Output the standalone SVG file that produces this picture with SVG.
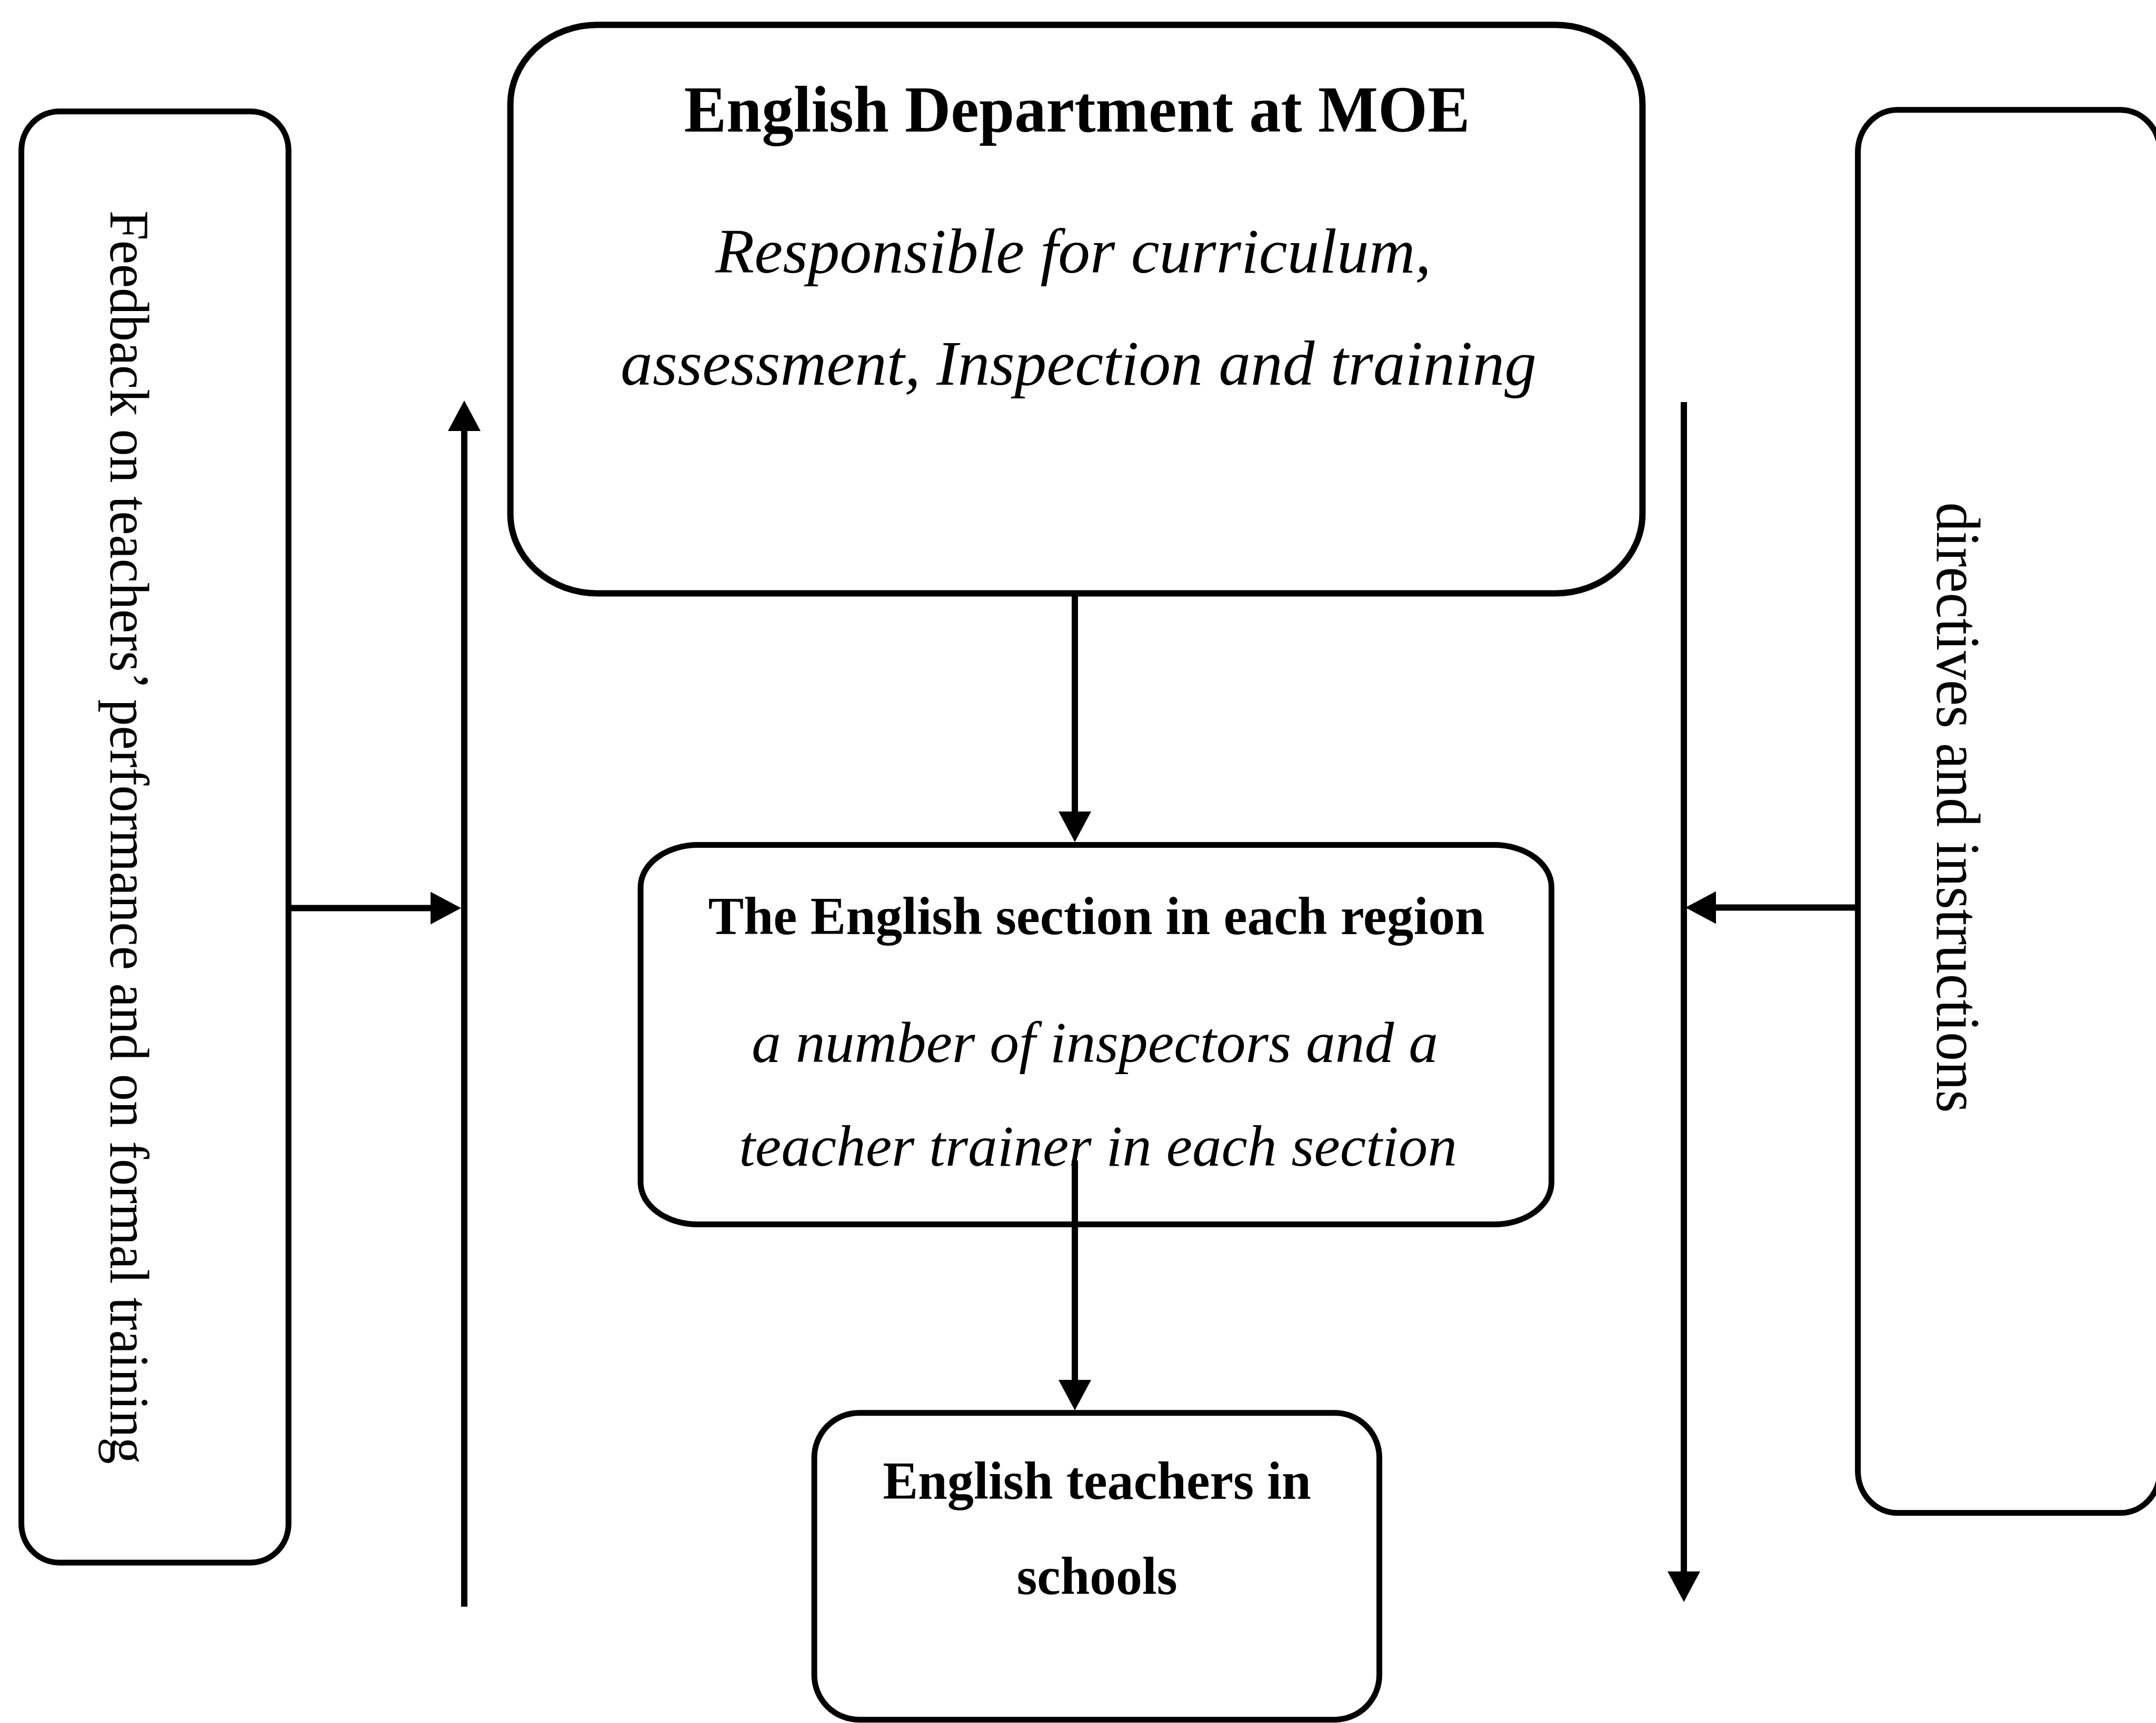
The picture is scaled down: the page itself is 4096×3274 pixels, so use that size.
<svg xmlns="http://www.w3.org/2000/svg" width="4096" height="3274" viewBox="0 0 4096 3274">
<defs>
<style>
.box{fill:#fff;stroke:#000;stroke-width:11}
.t{font-family:"Liberation Serif","Times New Roman",serif;fill:#000}
.b{font-weight:bold}
.i{font-style:italic}
.ln{stroke:#000;stroke-width:12;fill:none}
</style>
<marker id="ah" markerUnits="userSpaceOnUse" markerWidth="60" markerHeight="62" refX="18" refY="31" orient="auto" viewBox="0 0 60 62">
<path d="M0,0 L58,31 L0,62 Z" fill="#000"/>
</marker>
</defs>
<rect width="4096" height="3274" fill="#fff"/>
<g id="feedback">
<rect class="box" x="40.6" y="211.7" width="507.5" height="2757.5" rx="72" ry="74"/>
<text class="t" font-size="106" transform="translate(210,400) rotate(90)" textLength="2382" lengthAdjust="spacingAndGlyphs">Feedback on teachers’ performance and on formal training</text>
</g>
<g id="directives">
<rect class="box" x="3529.6" y="208.8" width="574" height="2665.9" rx="75" ry="80"/>
<text class="t" font-size="118" transform="translate(3680,954.5) rotate(90)" textLength="1160" lengthAdjust="spacingAndGlyphs">directives and instructions</text>
</g>
<g id="moe">
<rect class="box" x="969.6" y="47.3" width="2150.8" height="1080.1" rx="165" ry="151" style="stroke-width:12"/>
<text class="t b" font-size="124" x="2046" y="250.4" text-anchor="middle" textLength="1493" lengthAdjust="spacingAndGlyphs">English Department at MOE</text>
<text class="t i" font-size="121" x="2039" y="517.9" text-anchor="middle" textLength="1360" lengthAdjust="spacingAndGlyphs">Responsible for curriculum,</text>
<text class="t i" font-size="121" x="2049" y="731.4" text-anchor="middle" textLength="1740" lengthAdjust="spacingAndGlyphs">assessment, Inspection and training</text>
</g>
<g id="region">
<rect class="box" x="1217" y="1605.6" width="1730.5" height="721" rx="109" ry="80"/>
<text class="t b" font-size="101" x="2083" y="1774.7" text-anchor="middle" textLength="1475" lengthAdjust="spacingAndGlyphs">The English section in each region</text>
<text class="t i" font-size="110" x="2080" y="2017.6" text-anchor="middle" textLength="1304" lengthAdjust="spacingAndGlyphs">a number of inspectors and a</text>
<text class="t i" font-size="110" x="2086" y="2215" text-anchor="middle" textLength="1364" lengthAdjust="spacingAndGlyphs">teacher trainer in each section</text>
</g>
<g id="teachers">
<rect class="box" x="1547" y="2684.7" width="1073.5" height="583" rx="85" ry="85"/>
<text class="t b" font-size="101" x="2084" y="2848.2" text-anchor="middle" textLength="813.6" lengthAdjust="spacingAndGlyphs">English teachers in</text>
<text class="t b" font-size="101" x="2084" y="3028.7" text-anchor="middle" textLength="305" lengthAdjust="spacingAndGlyphs">schools</text>
</g>
<g id="connectors">
<line class="ln" x1="2042" y1="1128" x2="2042" y2="1560" marker-end="url(#ah)"/>
<line class="ln" x1="2042" y1="2205" x2="2042" y2="2640" marker-end="url(#ah)"/>
<line class="ln" x1="882" y1="3053" x2="882" y2="801" marker-end="url(#ah)"/>
<line class="ln" x1="548" y1="1725.6" x2="836" y2="1725.6" marker-end="url(#ah)"/>
<line class="ln" x1="3199" y1="764" x2="3199" y2="3004" marker-end="url(#ah)"/>
<line class="ln" x1="3530" y1="1724.6" x2="3242" y2="1724.6" marker-end="url(#ah)"/>
</g>
</svg>
